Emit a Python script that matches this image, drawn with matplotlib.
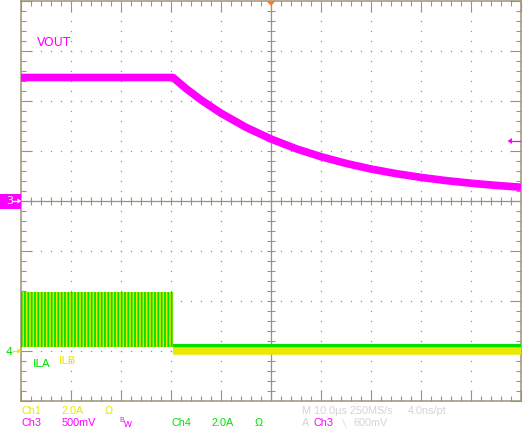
import numpy as np
import matplotlib
matplotlib.use("Agg")
import matplotlib.pyplot as plt
from matplotlib.collections import LineCollection
from matplotlib.patches import Rectangle, Polygon

# Ch3 : VOUT  (time in microseconds, volts)
vout_t_us = [0, 30.4, 33, 36, 40, 45, 50, 55, 60, 65, 70, 75, 80, 85, 90, 95, 100]
vout_v = [1.235, 1.235, 1.125, 1.011, 0.878, 0.737, 0.620, 0.523, 0.443, 0.376,
          0.320, 0.274, 0.236, 0.204, 0.178, 0.156, 0.138]

# Ch1 / Ch4 : inductor currents ILB / ILA (amps)
burst_t_us = [0, 30.4]          # switching burst envelope
burst_i_min = [0.16, 0.16]
burst_i_max = [2.36, 2.36]
ila_after_t_us = [30.4, 100]
ila_after_i = [0.22, 0.22]
ilb_after_t_us = [30.4, 100]
ilb_after_i = [0.0, 0.0]

# scope settings
time_per_div_us = 10.0
ch3_v_per_div = 0.5
ch14_a_per_div = 2.0
ch3_ground_div = 4      # divisions from bottom
ch14_ground_div = 1

row1_left = ["Ch1", "2.0A", "\u03a9"]
row2_left = ["Ch3", "500mV"]
row2_mid = ["Ch4", "2.0A", "\u03a9"]
timebase_text = ["M 10.0\u00b5s 250MS/s", "4.0ns/pt"]
trigger_text = ["A", "Ch3", "\u2572", "600mV"]

# ---------------- styling ----------------
W, H = 524, 432
GC = "#9e9276"
MAG = "#ff00ff"
YEL = "#e8e800"
GRN = "#00e000"
GRAY = "#d4d4d4"
NARROW = ["Liberation Sans Narrow", "DejaVu Sans"]
SANS = ["Liberation Sans", "DejaVu Sans"]
plt.rcParams["hatch.linewidth"] = 1.3

fig = plt.figure(figsize=(W / 100, H / 100), dpi=100)
fig.patch.set_facecolor("white")
pos = [21 / W, (H - 401) / H, 500 / W, 400 / H]

# graticule axes (in divisions)
ax_g = fig.add_axes(pos)
ax_g.set_xlim(0, 10)
ax_g.set_ylim(0, 8)
ax_g.set_facecolor("white")
for sp in ax_g.spines.values():
    sp.set_color(GC)
    sp.set_linewidth(1.1)
ax_g.set_xticks(range(11))
ax_g.set_yticks(range(9))
ax_g.set_xticks(np.arange(0, 10.01, 0.2), minor=True)
ax_g.set_yticks(np.arange(0, 8.01, 0.2), minor=True)
ax_g.tick_params(which="both", direction="in", top=True, right=True,
                 labelbottom=False, labelleft=False, color=GC, width=0.8)
ax_g.tick_params(which="major", length=8)
ax_g.tick_params(which="minor", length=3.6)

minor_x = np.arange(0.2, 9.81, 0.2)
minor_y = np.arange(0.2, 7.81, 0.2)
for gy in [1, 2, 3, 5, 6, 7]:
    ax_g.plot(minor_x, np.full_like(minor_x, gy), "s", ms=0.9, mew=0, color=GC)
for gx in [1, 2, 3, 4, 6, 7, 8, 9]:
    ax_g.plot(np.full_like(minor_y, gx), minor_y, "s", ms=0.9, mew=0, color=GC)
ax_g.axvline(5, color=GC, lw=0.9)
ax_g.axhline(4, color=GC, lw=0.9)
segs = [[(x, 4 - 0.08), (x, 4 + 0.08)] for x in minor_x]
segs += [[(5 - 0.08, y), (5 + 0.08, y)] for y in minor_y]
ax_g.add_collection(LineCollection(segs, colors=GC, linewidths=0.8))

# current channels axes
ax_i = fig.add_axes(pos, facecolor="none")
ax_i.set_xlim(0, 10 * time_per_div_us)
ax_i.set_ylim(-ch14_ground_div * ch14_a_per_div, (8 - ch14_ground_div) * ch14_a_per_div)
ax_i.axis("off")
ax_i.fill_between(burst_t_us, burst_i_min, burst_i_max, facecolor=YEL,
                  edgecolor=GRN, hatch="|||||", linewidth=0)
ax_i.plot(ila_after_t_us, ila_after_i, color=GRN, lw=3.0, solid_capstyle="butt")
ax_i.plot(ilb_after_t_us, ilb_after_i, color=YEL, lw=5.4, solid_capstyle="butt")

# voltage channel axes
ax_v = fig.add_axes(pos, facecolor="none")
ax_v.set_xlim(0, 10 * time_per_div_us)
ax_v.set_ylim(-ch3_ground_div * ch3_v_per_div, (8 - ch3_ground_div) * ch3_v_per_div)
ax_v.axis("off")
ax_v.plot(vout_t_us, vout_v, color=MAG, lw=5.5, solid_capstyle="butt",
          solid_joinstyle="round")

# overlay (pixel coordinates) for scope UI
ax_o = fig.add_axes([0, 0, 1, 1], facecolor="none")
ax_o.set_xlim(0, W)
ax_o.set_ylim(H, 0)
ax_o.axis("off")

def txt(x, y, s, c, size=7.8, fam=SANS, **kw):
    ax_o.text(x, y, s, color=c, fontsize=size, family=fam, ha="left", va="center", **kw)

# channel labels
txt(37, 42.5, "VOUT", MAG, size=8.8, fam=NARROW)
txt(33, 364, "ILA", GRN, size=8.2, fam=NARROW)
txt(59, 361.5, "ILB", YEL, size=8.2, fam=NARROW)

# ground markers
ax_o.add_patch(Rectangle((0, 193.5), 21, 15, color=MAG, lw=0))
txt(6, 201.5, "3", "white", size=8, fam=NARROW)
ax_o.plot([13, 19], [201, 201], color="white", lw=0.9)
ax_o.add_patch(Polygon([[21, 201], [17.5, 198.5], [17.5, 203.5]], color="white", lw=0))
txt(5.5, 352, "4", GRN, size=8, fam=NARROW)
ax_o.plot([13, 18], [351, 351], color=YEL, lw=0.9)
ax_o.add_patch(Polygon([[21.5, 351], [17.5, 348.5], [17.5, 353.5]], color=YEL, lw=0))
# trigger level marker (right) and trigger position (top)
ax_o.plot([511, 520], [141, 141], color=MAG, lw=0.9)
ax_o.add_patch(Polygon([[507.5, 141], [512, 138], [512, 144]], color=MAG, lw=0))
ax_o.add_patch(Polygon([[266.5, 1], [275.5, 1], [271, 6]], color="#ff7a1a", lw=0))

# bottom readouts
y1, y2 = 410.5, 423.5
for x, s in zip([22, 62, 105], row1_left):
    txt(x, y1, s, YEL)
for x, s in zip([22, 62], row2_left):
    txt(x, y2, s, MAG)
txt(119.5, y2 - 2.5, "B", MAG, size=5)
txt(123.5, y2 + 0.5, "w", MAG)
for x, s in zip([172, 212, 255], row2_mid):
    txt(x, y2, s, GRN)
for x, s in zip([302, 408], timebase_text):
    txt(x, y1, s, GRAY)
txt(302, y2, trigger_text[0], GRAY)
txt(313, y2, trigger_text[1], MAG)
txt(341, y2, trigger_text[2], GRAY, size=5.5, fam=["DejaVu Sans"])
txt(353, y2, trigger_text[3], GRAY)

fig.savefig("out.png", dpi=100, facecolor="white")
